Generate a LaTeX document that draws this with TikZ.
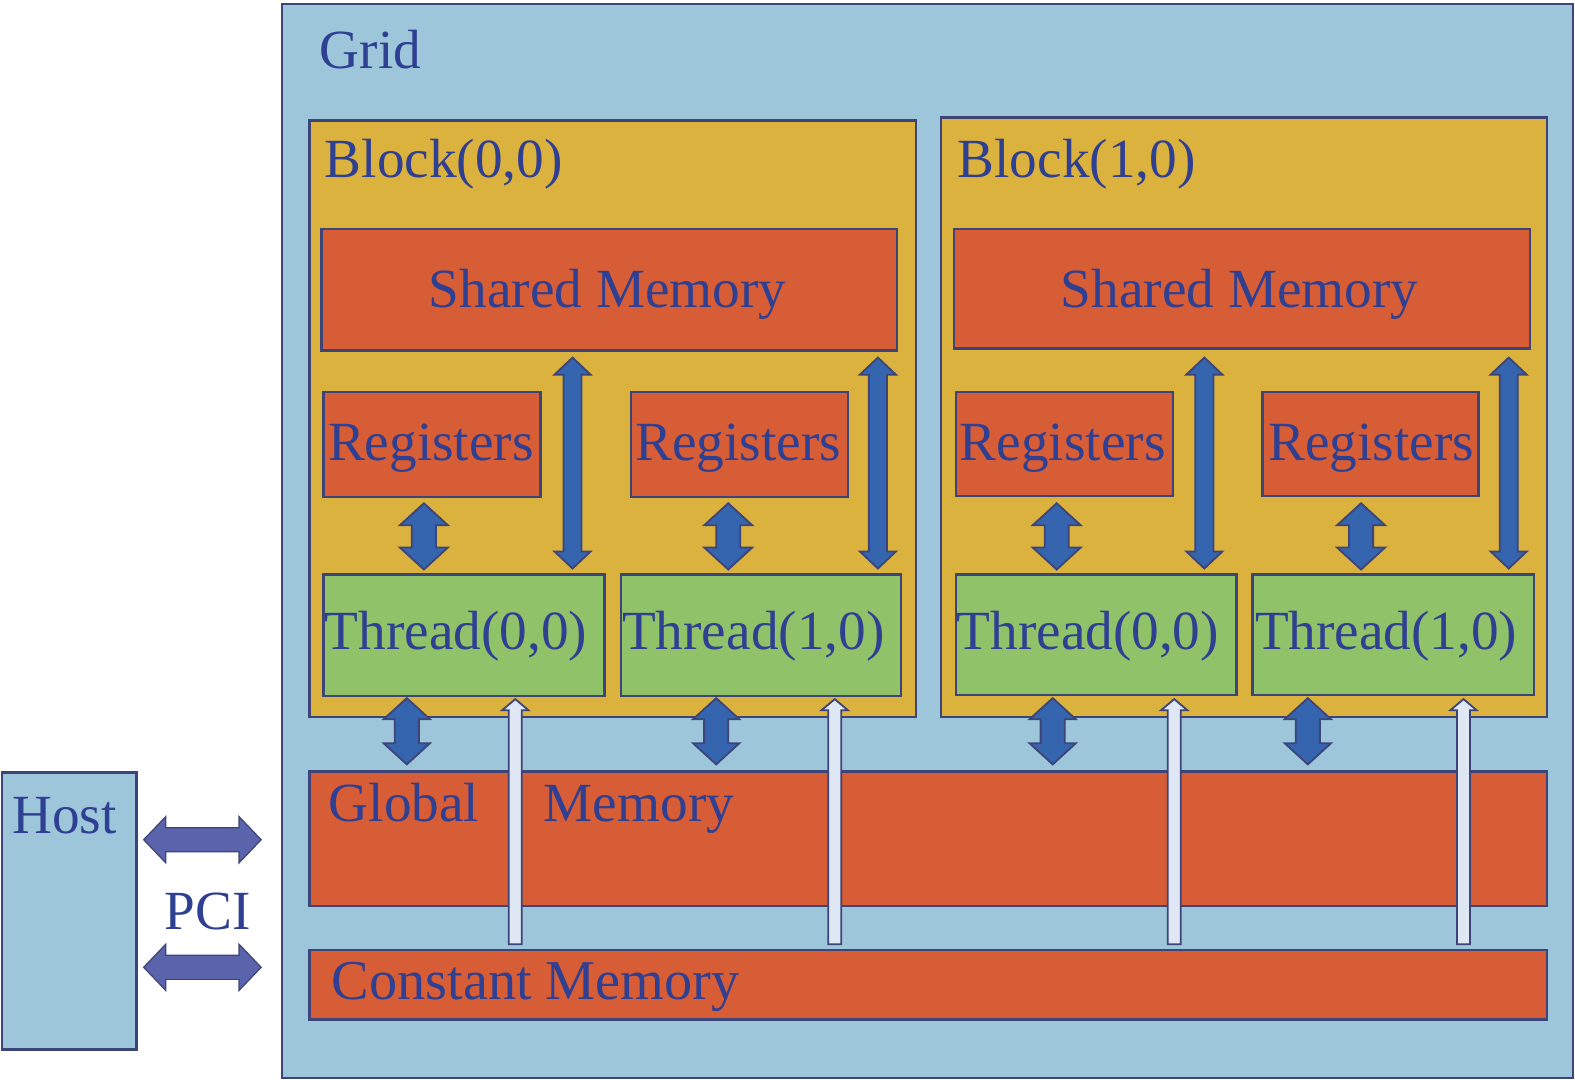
\documentclass[tikz,border=0pt]{standalone}
\usepackage{fontspec}
\setmainfont{Liberation Serif}
\usetikzlibrary{fit}
\definecolor{gridblue}{RGB}{158,198,219}
\definecolor{gold}{RGB}{220,178,62}
\definecolor{memred}{RGB}{214,93,54}
\definecolor{thgreen}{RGB}{143,194,105}
\definecolor{edge}{RGB}{60,68,120}
\definecolor{txt}{RGB}{47,63,146}
\definecolor{arrblue}{RGB}{52,101,174}
\definecolor{pciblue}{RGB}{91,99,172}
\definecolor{arrwhite}{RGB}{222,231,243}
\tikzset{
  box/.style={draw=edge, line width=1.2pt, inner sep=0pt},
  lbl/.style={text=txt, font=\fontsize{27.5}{27.5}\selectfont, inner sep=0pt, anchor=base},
  barrow/.style={fill=arrblue, draw=edge, line width=0.9pt, line join=miter},
  parrow/.style={fill=pciblue, draw=edge, line width=0.6pt, line join=miter},
  warrow/.style={fill=arrwhite, draw=edge, line width=0.9pt, line join=miter},
}
% vertical double arrow: style, x, ytop, ybot, shaft half, head half, head length
\newcommand\vdarrow[7]{%
  \filldraw[#1] ({#2-#5},{#3+#7}) -- ({#2-#6},{#3+#7}) -- (#2,#3) -- ({#2+#6},{#3+#7}) -- ({#2+#5},{#3+#7})
   -- ({#2+#5},{#4-#7}) -- ({#2+#6},{#4-#7}) -- (#2,#4) -- ({#2-#6},{#4-#7}) -- ({#2-#5},{#4-#7}) -- cycle;}
% horizontal double arrow: style, y, xleft, xright, shaft half, head half, head length
\newcommand\hdarrow[7]{%
  \filldraw[#1] ({#3+#7},{#2-#5}) -- ({#3+#7},{#2-#6}) -- (#3,#2) -- ({#3+#7},{#2+#6}) -- ({#3+#7},{#2+#5})
   -- ({#4-#7},{#2+#5}) -- ({#4-#7},{#2+#6}) -- (#4,#2) -- ({#4-#7},{#2-#6}) -- ({#4-#7},{#2-#5}) -- cycle;}
% single up arrow: style, x, ytip, ybot, shaft half, head half, head length
\newcommand\uparr[7]{%
  \filldraw[#1] ({#2-#5},#4) -- ({#2-#5},{#3+#7}) -- ({#2-#6},{#3+#7}) -- (#2,#3) -- ({#2+#6},{#3+#7})
   -- ({#2+#5},{#3+#7}) -- ({#2+#5},#4) -- cycle;}
\begin{document}
\begin{tikzpicture}[x=0.5pt,y=-0.5pt]
\useasboundingbox (0,0) rectangle (1568,1075);
% Grid
\node[box, fill=gridblue, fit={(281,4)(1566,1073)}] (grid) {};
\node[lbl, anchor=base west] (gridl) at (318,68) {Grid};
% Host
\node[box, fill=gridblue, fit={(2,769)(136,1045)}] (host) {};
\node[lbl, anchor=base west] (hostl) at (12,830) {Host};
\node[lbl] (pci) at (207,925) {PCI};
% Blocks
\node[box, fill=gold, fit={(308,120)(912,714)}] (b00) {};
\node[lbl, anchor=base west] at (323,177) {Block(0,0)};
\node[box, fill=gold, fit={(937,117)(1540,714)}] (b10) {};
\node[lbl, anchor=base west] at (953,177) {Block(1,0)};
% Shared memory
\node[box, fill=memred, fit={(320,228)(893,349)}] (sh00) {};
\node[lbl] at (605,306) {Shared Memory};
\node[box, fill=memred, fit={(950,228)(1523,347)}] (sh10) {};
\node[lbl] at (1234,306) {Shared Memory};
% Registers
\node[box, fill=memred, fit={(322,390)(538,495)}] (r00) {};
\node[lbl] at (429,458) {Registers};
\node[box, fill=memred, fit={(628,390)(844,495)}] (r01) {};
\node[lbl] at (735,458) {Registers};
\node[box, fill=memred, fit={(952,390)(1168,494)}] (r10) {};
\node[lbl] at (1058,458) {Registers};
\node[box, fill=memred, fit={(1257,390)(1472,494)}] (r11) {};
\node[lbl] at (1365,458) {Registers};
% Threads
\node[box, fill=thgreen, fit={(322,572)(602,693)}] (t00) {};
\node[lbl] at (454,647) {Thread(0,0)};
\node[box, fill=thgreen, fit={(618,572)(897,693)}] (t01) {};
\node[lbl] at (750,647) {Thread(1,0)};
\node[box, fill=thgreen, fit={(952,572)(1231,692)}] (t10) {};
\node[lbl] at (1083,647) {Thread(0,0)};
\node[box, fill=thgreen, fit={(1247,572)(1527,692)}] (t11) {};
\node[lbl] at (1380,647) {Thread(1,0)};
% Global & constant memory
\node[box, fill=memred, fit={(308,768)(1540,902)}] (glob) {};
\node[lbl, anchor=base west] at (327,818) {Global};
\node[lbl, anchor=base west] at (541,818) {Memory};
\node[box, fill=memred, fit={(308,946)(1540,1015)}] (const) {};
\node[lbl, anchor=base west, font=\fontsize{28}{28}\selectfont] at (330,995) {Constant Memory};
% Register <-> Thread arrows
\vdarrow{barrow}{422}{501}{567}{12}{24}{22}
\vdarrow{barrow}{725}{501}{567}{12}{24}{22}
\vdarrow{barrow}{1052}{501}{567}{12}{24}{22}
\vdarrow{barrow}{1355}{501}{567}{12}{24}{22}
% Shared <-> Thread arrows
\vdarrow{barrow}{570}{356}{566}{9}{18}{17}
\vdarrow{barrow}{874}{356}{566}{9}{18}{17}
\vdarrow{barrow}{1199}{356}{566}{9}{18}{17}
\vdarrow{barrow}{1502}{356}{566}{9}{18}{17}
% Thread <-> Global arrows
\vdarrow{barrow}{405}{695}{761}{12}{23}{21}
\vdarrow{barrow}{713}{695}{761}{12}{23}{21}
\vdarrow{barrow}{1048}{695}{761}{12}{23}{21}
\vdarrow{barrow}{1302}{695}{761}{12}{23}{21}
% Constant -> Thread arrows
\uparr{warrow}{513}{696}{940}{6.5}{13}{11}
\uparr{warrow}{831}{696}{940}{6.5}{13}{11}
\uparr{warrow}{1169}{696}{940}{6.5}{13}{11}
\uparr{warrow}{1457}{696}{940}{6.5}{13}{11}
% PCI arrows
\hdarrow{parrow}{836}{143}{260}{12}{23}{22}
\hdarrow{parrow}{963}{143}{260}{12}{23}{22}
\end{tikzpicture}
\end{document}
